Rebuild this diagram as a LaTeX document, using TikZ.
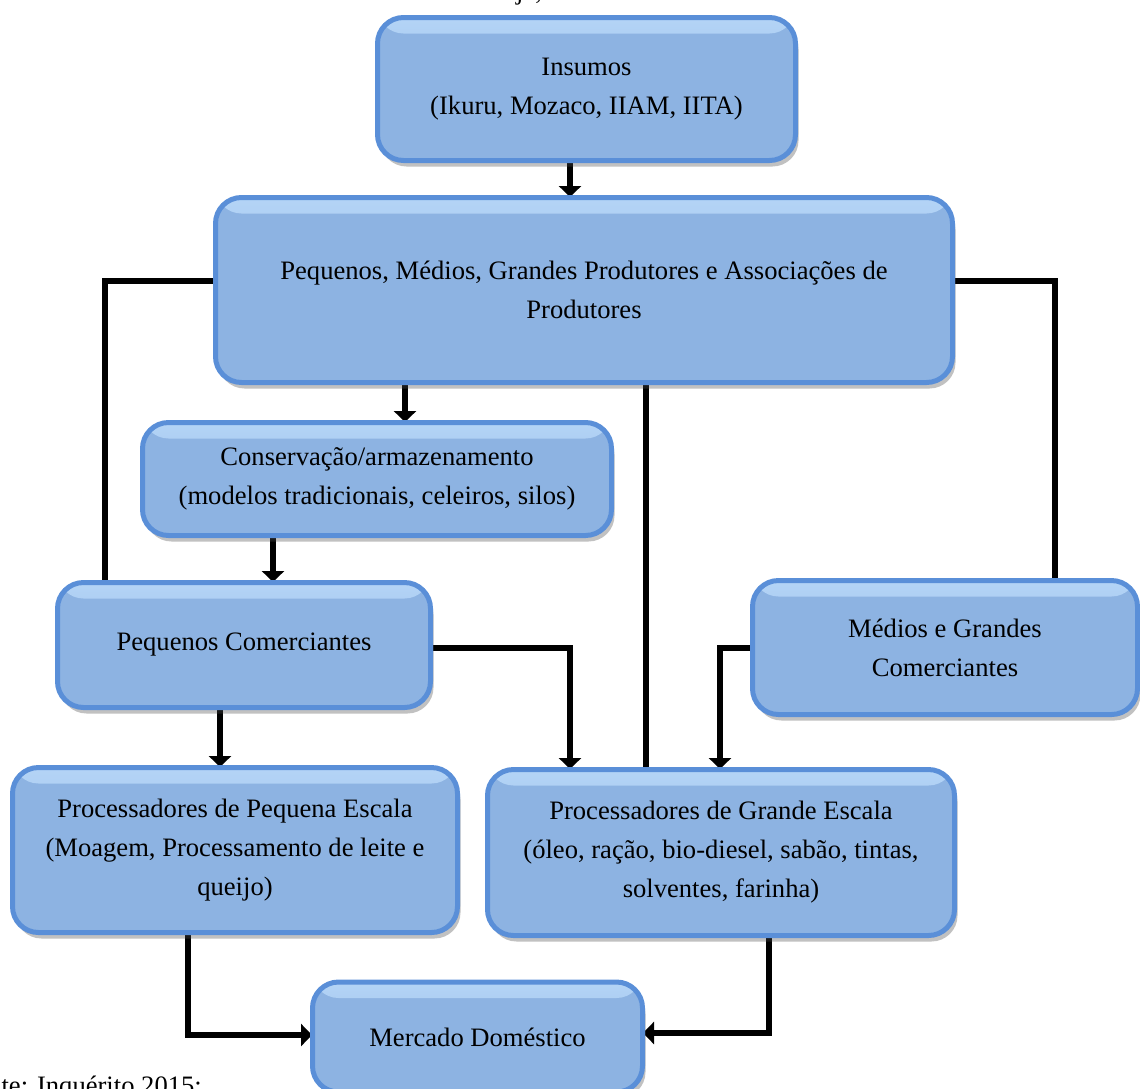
\documentclass[tikz,border=0pt]{standalone}
\usepackage{fontspec}
\setmainfont{Liberation Serif}
\usetikzlibrary{arrows.meta,shadows,backgrounds}
\definecolor{boxfill}{HTML}{8DB3E2}
\definecolor{boxtop}{HTML}{B4D4F6}
\definecolor{boxedge}{HTML}{5A8FD8}
\tikzset{
  box/.style={rounded corners=26pt, fill=boxfill, draw=boxedge, line width=5pt,
    align=center, inner sep=0pt, font=\fontsize{26.6}{39}\selectfont,
    path picture={\fill[top color=boxtop, bottom color=boxfill]
      (path picture bounding box.north west) rectangle
      ([yshift=-16pt]path picture bounding box.north east);},
    drop shadow={shadow xshift=3pt, shadow yshift=-6pt, opacity=.35, fill=black!70}},
  conn/.style={line width=6pt, black},
  arr/.style={conn, -{Triangle[width=22pt,length=11pt]}, shorten >=-2pt},
}
\begin{document}
\begin{tikzpicture}[x=1pt,y=-1pt]
\useasboundingbox (0,0) rectangle (1140,1088);
\clip (0,0) rectangle (1140,1088);
% x / y guide coordinates
\coordinate (x105) at (105,0);
\coordinate (x188) at (188,0);
\coordinate (x220) at (220,0);
\coordinate (x273) at (273,0);
\coordinate (x405) at (405,0);
\coordinate (x570) at (570,0);
\coordinate (x646) at (646,0);
\coordinate (x720) at (720,0);
\coordinate (x769) at (769,0);
\coordinate (x1055) at (1055,0);
\coordinate (y281) at (0,281);
\coordinate (y648) at (0,648);
\coordinate (y1035) at (0,1035);
\coordinate (y1033) at (0,1033);

\node[box, minimum width=418, minimum height=143] (ins) at (586.5,89)
  {Insumos\\(Ikuru, Mozaco, IIAM, IITA)};
\node[box, minimum width=737, minimum height=185] (prod) at (584,290)
  {Pequenos, Médios, Grandes Produtores e Associações de\\Produtores};
\node[box, minimum width=469, minimum height=113] (cons) at (377,479)
  {Conservação/armazenamento\\(modelos tradicionais, celeiros, silos)};
\node[box, minimum width=373, minimum height=125] (pcom) at (244,645)
  {Pequenos Comerciantes};
\node[box, minimum width=385, minimum height=134] (mgc) at (945,647.5)
  {Médios e Grandes\\Comerciantes};
\node[box, minimum width=445, minimum height=165] (pp) at (235,850)
  {Processadores de Pequena Escala\\(Moagem, Processamento de leite e\\queijo)};
\node[box, minimum width=467, minimum height=166] (pg) at (721,852.5)
  {Processadores de Grande Escala\\(óleo, ração, bio-diesel, sabão, tintas,\\solventes, farinha)};
\node[box, minimum width=330, minimum height=110] (merc) at (477.5,1037)
  {Mercado Doméstico};

\node[anchor=base west, inner sep=0pt, font=\fontsize{26.6}{39}\selectfont] (fonte) at (-40,1094)
  {Fonte: Inquérito 2015:};
\node[anchor=base west, inner sep=0pt, font=\fontsize{26.6}{39}\selectfont] (frag) at (516,-1)
  {ja,};

\begin{scope}[on background layer]
\draw[arr] (ins.south -| x570) -- (prod.north -| x570);
\draw[arr] (prod.south -| x405) -- (cons.north -| x405);
\draw[arr] (cons.south -| x273) -- (pcom.north -| x273);
\draw[conn] (prod.west |- y281) -| (pcom.north -| x105);
\draw[conn] (prod.east |- y281) -| (mgc.north -| x1055);
\draw[conn] (prod.south -| x646) -- (pg.north -| x646);
\draw[arr] (pcom.south -| x220) -- (pp.north -| x220);
\draw[arr] (pcom.east |- y648) -| (pg.north -| x570);
\draw[arr] (mgc.west |- y648) -| (pg.north -| x720);
\draw[arr] (pp.south -| x188) |- (merc.west |- y1035);
\draw[arr] (pg.south -| x769) |- (merc.east |- y1033);
\end{scope}
\end{tikzpicture}
\end{document}
